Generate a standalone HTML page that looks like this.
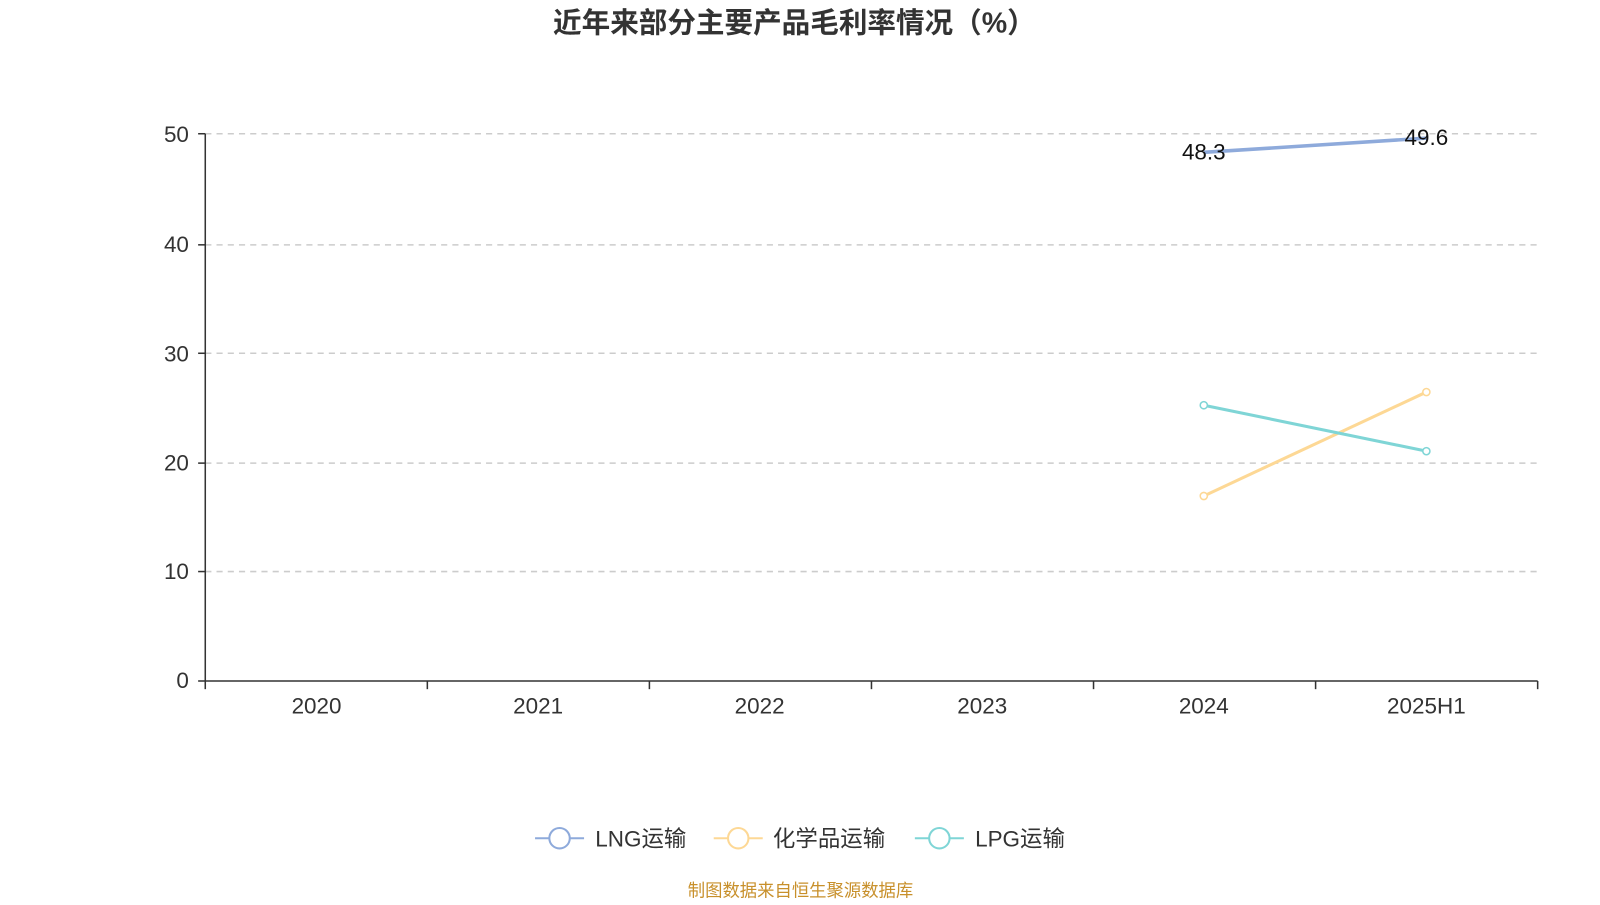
<!DOCTYPE html>
<html><head><meta charset="utf-8"><style>
body{margin:0;background:#fff;width:1600px;height:900px;overflow:hidden}
text{font-family:"Liberation Sans","Noto Sans CJK SC",sans-serif}
</style></head><body>
<svg width="1600" height="900" viewBox="0 0 1567 881.5" xmlns="http://www.w3.org/2000/svg">
<text x="778" y="32" text-anchor="middle" font-size="28" font-weight="bold" fill="#333">近年来部分主要产品毛利率情况（%）</text>
<g stroke="#ccc" stroke-dasharray="6,5" stroke-width="1.5">
<line x1="201" x2="1506" y1="131" y2="131"/><line x1="201" x2="1506" y1="239.8" y2="239.8"/>
<line x1="201" x2="1506" y1="346" y2="346"/><line x1="201" x2="1506" y1="453.6" y2="453.6"/>
<line x1="201" x2="1506" y1="559.8" y2="559.8"/></g>
<g stroke="#333" stroke-width="1.5">
<line x1="201" y1="131" x2="201" y2="667"/><line x1="201" y1="667" x2="1506" y2="667"/>
<line x1="194" x2="201" y1="131" y2="131"/><line x1="194" x2="201" y1="239.8" y2="239.8"/><line x1="194" x2="201" y1="346" y2="346"/><line x1="194" x2="201" y1="453.6" y2="453.6"/><line x1="194" x2="201" y1="559.8" y2="559.8"/><line x1="194" x2="201" y1="667" y2="667"/>
<line x1="201" x2="201" y1="667" y2="675"/><line x1="418.5" x2="418.5" y1="667" y2="675"/><line x1="636" x2="636" y1="667" y2="675"/><line x1="853.5" x2="853.5" y1="667" y2="675"/><line x1="1071" x2="1071" y1="667" y2="675"/><line x1="1288.5" x2="1288.5" y1="667" y2="675"/><line x1="1506" x2="1506" y1="667" y2="675"/>
</g>
<g font-size="22" fill="#333" text-anchor="end">
<text x="185" y="139">50</text><text x="185" y="247">40</text><text x="185" y="354">30</text><text x="185" y="461">20</text><text x="185" y="567">10</text><text x="185" y="674">0</text></g>
<g font-size="22" fill="#333" text-anchor="middle">
<text x="310" y="699">2020</text><text x="527" y="699">2021</text><text x="744" y="699">2022</text><text x="962" y="699">2023</text><text x="1179" y="699">2024</text><text x="1397" y="699">2025H1</text></g>
<polyline points="1179,149.2 1397,135.3" stroke="#8eaadb" stroke-width="3.5" fill="none"/>
<polyline points="1179,485.8 1397,384" stroke="#fdd895" stroke-width="3" fill="none"/>
<polyline points="1179,396.9 1397,441.9" stroke="#7fd5d6" stroke-width="3" fill="none"/>
<g fill="#fff" stroke-width="1.5">
<circle cx="1179" cy="485.8" r="3.5" stroke="#fdd895"/><circle cx="1397" cy="384" r="3.5" stroke="#fdd895"/>
<circle cx="1179" cy="396.9" r="3.5" stroke="#7fd5d6"/><circle cx="1397" cy="441.9" r="3.5" stroke="#7fd5d6"/></g>
<g font-size="22" fill="#111" text-anchor="middle"><text x="1179" y="156">48.3</text><text x="1397" y="142">49.6</text></g>
<g stroke-width="2" fill="#fff">
<line x1="524" x2="572" y1="821" y2="821" stroke="#8eaadb"/><circle cx="548" cy="821" r="10" stroke="#8eaadb"/>
<line x1="699" x2="747" y1="821" y2="821" stroke="#fdd895"/><circle cx="723" cy="821" r="10" stroke="#fdd895"/>
<line x1="896" x2="944" y1="821" y2="821" stroke="#7fd5d6"/><circle cx="920" cy="821" r="10" stroke="#7fd5d6"/></g>
<g font-size="22" fill="#333"><text x="583" y="829">LNG运输</text><text x="757" y="829">化学品运输</text><text x="955" y="829">LPG运输</text></g>
<text x="784" y="878" text-anchor="middle" font-size="17" fill="#c8902b">制图数据来自恒生聚源数据库</text>
</svg></body></html>
